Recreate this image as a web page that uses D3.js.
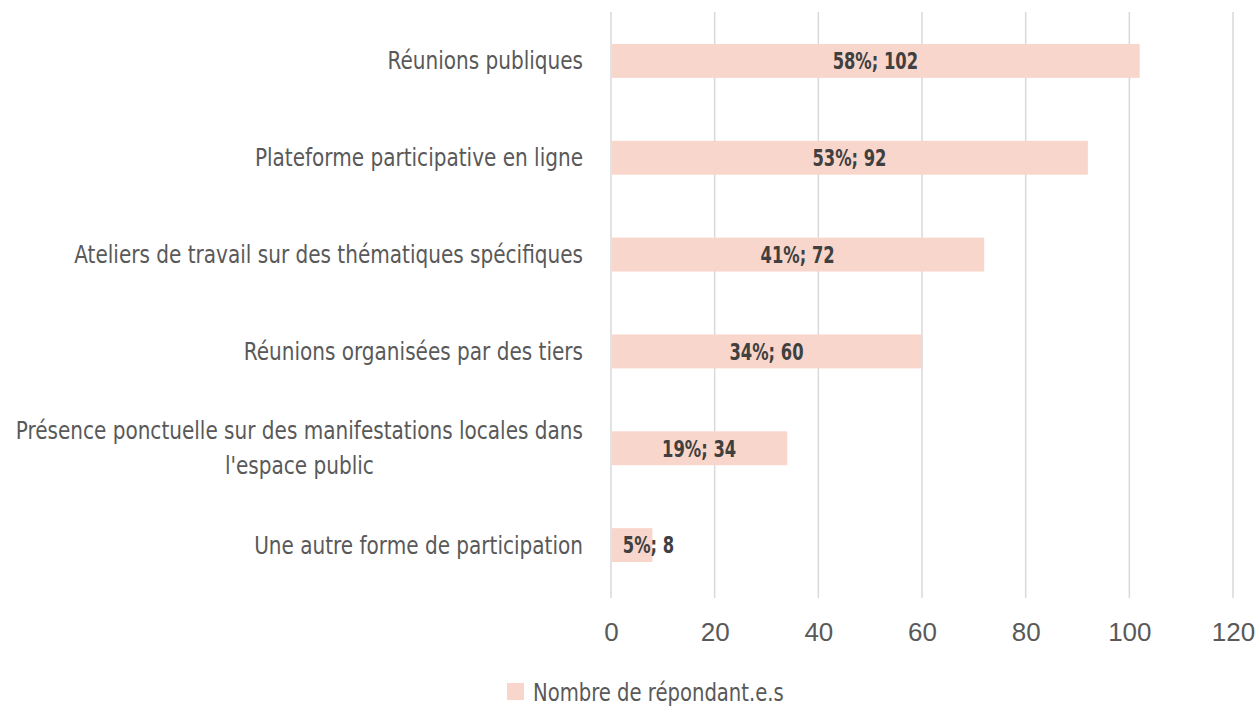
<!doctype html>
<html lang="fr">

<head>
    <meta charset="UTF-8">
    <title>Répondant.e.s</title>
    <script src="https://d3js.org/d3.v7.min.js"></script>
    <style>
        body {
            margin: 0;
            background: white;
        }

        svg {
            display: block;
        }

        .cat,
        .legend text {
            font-family: "Liberation Sans Narrow", "DejaVu Sans Condensed", sans-serif;
            font-size: 24.5px;
            fill: #595959;
        }

        .val {
            font-family: "Liberation Sans Narrow", "DejaVu Sans Condensed", sans-serif;
            font-size: 23px;
            font-weight: bold;
            fill: #404040;
        }

        .tick text {
            font-family: "Liberation Sans", Arial, sans-serif;
            font-size: 26px;
            fill: #595959;
        }
    </style>
</head>

<body>
    <svg width="1258" height="707"></svg>

    <script>
        const categories = [
            'Réunions publiques',
            'Plateforme participative en ligne',
            'Ateliers de travail sur des thématiques spécifiques',
            'Réunions organisées par des tiers',
            "Présence ponctuelle sur des manifestations locales dans\nl'espace public",
            'Une autre forme de participation'
        ];
        const counts = [102, 92, 72, 60, 34, 8];
        const percents = [58, 53, 41, 34, 19, 5];
        const xTicks = [0, 20, 40, 60, 80, 100, 120];
        const seriesName = 'Nombre de répondant.e.s';

        const data = categories.map((c, i) => ({ label: c, val: counts[i], pct: percents[i] }));

        // no narrow font installed, so squeeze the condensed one horizontally
        const catSqueeze = 0.91;
        const valSqueeze = 0.79;
        const legSqueeze = 0.89;

        const svg = d3.select('svg');

        const x = d3.scaleLinear()
            .domain([0, 120])
            .range([611, 1233]);

        const y = d3.scaleBand()
            .domain(categories)
            .range([12.5, 593.5])
            .paddingInner(0.65)
            .paddingOuter(0.325);

        // gridlines (extend a bit below as tick marks)
        svg.append('g')
            .selectAll('line')
            .data(xTicks)
            .join('line')
            .attr('x1', d => x(d))
            .attr('x2', d => x(d))
            .attr('y1', 12)
            .attr('y2', 598)
            .attr('stroke', '#d9d9d9')
            .attr('stroke-width', 1.5);

        // x axis labels
        const xAxis = svg.append('g')
            .attr('transform', 'translate(0, 598)')
            .call(d3.axisBottom(x).tickValues(xTicks).tickSize(0).tickPadding(25));
        xAxis.select('.domain').remove();
        xAxis.selectAll('text').attr('dy', '0.71em');

        // bars
        svg.append('g')
            .selectAll('rect')
            .data(data)
            .join('rect')
            .attr('x', x(0) + 1)
            .attr('y', d => y(d.label))
            .attr('width', d => x(d.val) - x(0) - 1)
            .attr('height', y.bandwidth())
            .attr('fill', '#f9d6cb');

        // value labels
        svg.append('g')
            .selectAll('g')
            .data(data)
            .join('g')
            .attr('transform', d => {
                const cx = d.val < 15 ? x(d.val) - 4 : (x(0) + x(d.val)) / 2;
                const cy = y(d.label) + y.bandwidth() / 2;
                return `translate(${cx}, ${cy}) scale(${valSqueeze}, 1)`;
            })
            .append('text')
            .attr('class', 'val')
            .attr('dy', '0.36em')
            .attr('text-anchor', 'middle')
            .text(d => `${d.pct}%; ${d.val}`);

        // category labels, wrapped lines centred on each other and right aligned as a block
        const labelRight = 583;
        const lineGap = 35;
        const cats = svg.append('g')
            .attr('transform', `translate(${labelRight}, 0) scale(${catSqueeze}, 1)`)
            .selectAll('text')
            .data(data)
            .join('text')
            .attr('class', 'cat');

        cats.each(function (d) {
            const t = d3.select(this);
            const lines = d.label.split('\n');
            const cy = y(d.label) + y.bandwidth() / 2;
            lines.forEach((ln, i) => {
                t.append('tspan')
                    .attr('y', cy + (i - (lines.length - 1) / 2) * lineGap)
                    .attr('dy', '0.35em')
                    .text(ln);
            });
            let w = 0;
            t.selectAll('tspan').each(function () {
                w = Math.max(w, this.getComputedTextLength());
            });
            if (lines.length > 1) {
                t.attr('text-anchor', 'middle');
                t.selectAll('tspan').attr('x', -w / 2);
            } else {
                t.attr('text-anchor', 'end');
                t.selectAll('tspan').attr('x', 0);
            }
        });

        // legend
        const legend = svg.append('g').attr('class', 'legend');
        legend.append('rect')
            .attr('x', 507)
            .attr('y', 683)
            .attr('width', 17)
            .attr('height', 17)
            .attr('fill', '#f9d6cb');
        legend.append('g')
            .attr('transform', `translate(533, 692) scale(${legSqueeze}, 1)`)
            .append('text')
            .attr('dy', '0.35em')
            .text(seriesName);
    </script>
</body>

</html>
